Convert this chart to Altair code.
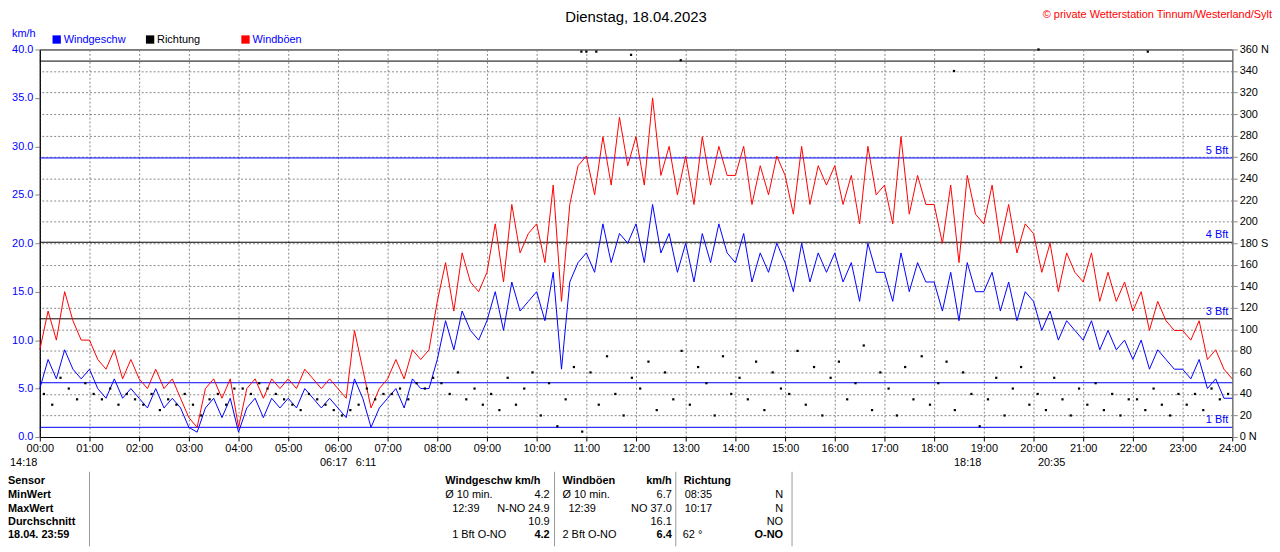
""" Wind chart Tinnum/Westerland, 18.04.2023 """
import altair as alt
import pandas as pd

# 10-minute values, one row per hour
speed = [
    5, 8, 6, 9, 7, 6,   7, 5, 4, 6, 4, 5,   4, 3, 5, 3, 4, 3,   1, 0.5, 3, 4, 2, 4,
    0.5, 3, 4, 2, 4, 3,   4, 3, 5, 4, 3, 4,   3, 2, 6, 4, 1, 3,   4, 5, 3, 6, 5, 5,
    8, 12, 9, 13, 11, 10,   12, 15, 11, 16, 13, 14,   15, 12, 17, 7, 16, 18,   19, 17, 22, 18, 21, 20,
    22, 18, 24, 19, 21, 17,   20, 16, 21, 18, 22, 19,   18, 21, 16, 19, 17, 20,   18, 15, 20, 16, 19, 17,
    19, 16, 18, 14, 20, 17,   17, 14, 19, 15, 18, 16,   16, 13, 17, 12, 18, 15,   15, 17, 13, 16, 12, 15,
    14, 11, 13, 10, 12, 11,   10, 12, 9, 11, 9, 10,   8, 10, 7, 9, 8, 7,   7, 6, 8, 5, 6, 4,   4,
]
gust = [
    9, 13, 10, 15, 12, 10,   10, 8, 7, 9, 6, 8,   6, 5, 7, 5, 6, 4,   2, 1, 5, 6, 4, 6,
    1, 5, 6, 4, 6, 5,   6, 5, 7, 6, 5, 6,   5, 4, 11, 7, 3, 5,   6, 8, 6, 9, 8, 9,
    14, 18, 13, 19, 16, 15,   17, 22, 16, 24, 19, 21,   22, 18, 26, 14, 24, 28,   29, 25, 31, 26, 33, 28,
    31, 26, 35, 27, 30, 25,   29, 24, 31, 26, 30, 27,   27, 30, 24, 28, 25, 29,   27, 23, 30, 24, 28, 26,
    28, 24, 27, 22, 30, 25,   26, 22, 31, 23, 27, 24,   24, 20, 26, 18, 27, 23,   22, 26, 20, 24, 19, 22,
    21, 17, 20, 15, 19, 17,   16, 19, 14, 17, 14, 16,   13, 15, 11, 14, 12, 11,   11, 10, 12, 8, 9, 7,   6,
]
direction = [
    40, 30, 55, 45, 35, 50,   40, 35, 45, 30, 40, 35,   30, 40, 25, 35, 30, 40,   30, 20, 35, 40, 30, 45,
    45, 40, 50, 45, 40, 35,   30, 25, 40, 35, 30, 25,   20, 25, 30, 45, 35, 40,   40, 45, 35, 50, 45, 55,
    50, 40, 60, 35, 45, 30,   40, 25, 55, 30, 45, 60,   20, 50, 10, 35, 65, 5,   60, 30, 75, 40, 20, 55,
    45, 70, 25, 60, 35, 80,   30, 65, 50, 20, 75, 40,   55, 35, 70, 25, 60, 45,   40, 80, 30, 65, 20, 55,
    70, 35, 50, 85, 25, 60,   45, 20, 65, 35, 75, 30,   50, 70, 25, 60, 40, 10,   35, 55, 20, 45, 65, 30,
    40, 25, 55, 35, 20, 45,   30, 50, 25, 40, 20, 35,   35, 25, 45, 30, 20, 40,   30, 40, 25, 45, 35, 40,
]
north_hours = [10.9, 11.0, 11.2, 11.9, 12.9, 18.4, 20.1, 22.3]
north_deg = [358, 358, 358, 355, 350, 340, 360, 358]

bft_values = [1.0, 5.6, 12.2, 20.1, 28.8, 38.8]
bft_colors = ["blue", "blue", "black", "black", "blue", "black"]
bft_labels = ["1 Bft", "", "3 Bft", "4 Bft", "5 Bft", ""]

hours = [i / 6 for i in range(len(speed))]
wind = pd.DataFrame({"h": hours, "speed": speed, "gust": gust})
dirs = pd.DataFrame({"h": [i / 6 + 1 / 12 for i in range(len(direction))] + north_hours,
                     "deg": direction + north_deg})
bft = pd.DataFrame({"v": bft_values, "c": bft_colors, "label": bft_labels})

W, H = 1200, 390
FONT = "Liberation Sans"

xscale = alt.Scale(domain=[0, 24], nice=False)
xaxis = alt.Axis(values=list(range(25)), labelExpr="(datum.value < 10 ? '0' : '') + datum.value + ':00'",
                 grid=True, gridDash=[2, 2], gridColor="#888", title=None, tickSize=4, labelFlush=False,
                 labelFontSize=11, labelColor="black", domainColor="black", tickColor="black")
yscale = alt.Scale(domain=[0, 40], nice=False)

base = alt.Chart(wind).encode(x=alt.X("h:Q", scale=xscale, axis=xaxis))
gust_line = base.mark_line(color="red", strokeWidth=1).encode(
    y=alt.Y("gust:Q", scale=yscale, axis=alt.Axis(values=[0, 5, 10, 15, 20, 25, 30, 35, 40], format=".1f",
                                                   grid=False, title=None, labelColor="blue",
                                                   labelFontSize=11, domainColor="black")))
speed_line = base.mark_line(color="blue", strokeWidth=1).encode(y=alt.Y("speed:Q", scale=yscale))

rules = alt.Chart(bft).mark_rule(strokeWidth=1).encode(
    y=alt.Y("v:Q", scale=yscale), color=alt.Color("c:N", scale=None))
rule_text = alt.Chart(bft).mark_text(align="right", dy=-7, dx=-4, fontSize=11, color="blue", font=FONT).encode(
    y=alt.Y("v:Q", scale=yscale), x=alt.value(W), text="label:N")

dir_axis = alt.Axis(orient="right", values=list(range(0, 361, 20)), grid=True, gridDash=[2, 2],
                    gridColor="#888", title=None, labelFontSize=11, labelColor="black",
                    labelExpr="datum.value == 0 || datum.value == 360 ? datum.value + ' N' : "
                              "datum.value == 180 ? '180 S' : datum.value")
dots = alt.Chart(dirs).mark_square(color="black", size=5, opacity=1).encode(
    x=alt.X("h:Q", scale=xscale),
    y=alt.Y("deg:Q", scale=alt.Scale(domain=[0, 360], nice=False), axis=dir_axis))

# texts around the plot area and the statistics table: (x, y, text, colour, align, weight, size)
R = [434, 448, 462, 476, 489]
cells = [
    (600, -33, "Dienstag, 18.04.2023", "black", "center", "normal", 15),
    (W + 40, -35, "© private Wetterstation Tinnum/Westerland/Sylt", "red", "right", "normal", 11),
    (-28, -16, "km/h", "blue", "left", "normal", 11),
    (24, -10, "Windgeschw", "blue", "left", "normal", 11),
    (118, -10, "Richtung", "black", "left", "normal", 11),
    (214, -10, "Windböen", "blue", "left", "normal", 11),
    (-30, 416, "14:18", "black", "left", "normal", 11),
    (282, 416, "06:17", "black", "left", "normal", 11),
    (318, 416, "6:11", "black", "left", "normal", 11),
    (920, 416, "18:18", "black", "left", "normal", 11),
    (1032, 416, "20:35", "black", "right", "normal", 11),
    (-32, R[0], "Sensor", "black", "left", "bold", 11),
    (-32, R[1], "MinWert", "black", "left", "bold", 11),
    (-32, R[2], "MaxWert", "black", "left", "bold", 11),
    (-32, R[3], "Durchschnitt", "black", "left", "bold", 11),
    (-32, R[4], "18.04. 23:59", "black", "left", "bold", 11),
    (408, R[0], "Windgeschw km/h", "black", "left", "bold", 11),
    (408, R[1], "Ø 10 min.", "black", "left", "normal", 11),
    (513, R[1], "4.2", "black", "right", "normal", 11),
    (415, R[2], "12:39", "black", "left", "normal", 11),
    (513, R[2], "N-NO 24.9", "black", "right", "normal", 11),
    (513, R[3], "10.9", "black", "right", "normal", 11),
    (415, R[4], "1 Bft O-NO", "black", "left", "normal", 11),
    (513, R[4], "4.2", "black", "right", "bold", 11),
    (526, R[0], "Windböen", "black", "left", "bold", 11),
    (636, R[0], "km/h", "black", "right", "bold", 11),
    (526, R[1], "Ø 10 min.", "black", "left", "normal", 11),
    (636, R[1], "6.7", "black", "right", "normal", 11),
    (532, R[2], "12:39", "black", "left", "normal", 11),
    (636, R[2], "NO 37.0", "black", "right", "normal", 11),
    (636, R[3], "16.1", "black", "right", "normal", 11),
    (526, R[4], "2 Bft O-NO", "black", "left", "normal", 11),
    (636, R[4], "6.4", "black", "right", "bold", 11),
    (648, R[0], "Richtung", "black", "left", "bold", 11),
    (649, R[1], "08:35", "black", "left", "normal", 11),
    (748, R[1], "N", "black", "right", "normal", 11),
    (649, R[2], "10:17", "black", "left", "normal", 11),
    (748, R[2], "N", "black", "right", "normal", 11),
    (748, R[3], "NO", "black", "right", "normal", 11),
    (647, R[4], "62 °", "black", "left", "normal", 11),
    (748, R[4], "O-NO", "black", "right", "bold", 11),
]
cell_df = pd.DataFrame(cells, columns=["x", "y", "t", "c", "a", "w", "s"])

text_layers = []
for (a, w), grp in cell_df.groupby(["a", "w"]):
    text_layers.append(
        alt.Chart(grp).mark_text(font=FONT, baseline="middle", align=a, fontWeight=w).encode(
            x=alt.X("x:Q", scale=None), y=alt.Y("y:Q", scale=None), text="t:N",
            color=alt.Color("c:N", scale=None), size=alt.Size("s:Q", scale=None)))

legend_sq = pd.DataFrame({"x": [17, 111, 207], "y": [-10, -10, -10], "c": ["blue", "black", "red"]})
squares = alt.Chart(legend_sq).mark_square(size=70, opacity=1).encode(
    x=alt.X("x:Q", scale=None), y=alt.Y("y:Q", scale=None), color=alt.Color("c:N", scale=None))

seps = pd.DataFrame({"x": [50, 518, 640, 757], "y": [425] * 4, "y2": [500] * 4})
sep_rules = alt.Chart(seps).mark_rule(color="#999").encode(
    x=alt.X("x:Q", scale=None), y=alt.Y("y:Q", scale=None), y2="y2:Q")

chart = (alt.layer(
    alt.layer(rules, gust_line, speed_line, rule_text),
    dots,
    *text_layers, squares, sep_rules)
    .resolve_scale(y="independent")
    .properties(width=W, height=H, autosize=alt.AutoSizeParams(type="none"),
                padding={"left": 32, "top": 40, "right": 40, "bottom": 114}, background="white")
    .configure_view(stroke="black")
    .configure_axis(labelFont=FONT)
)
chart.save("out.html", embed_options={"renderer": "svg", "actions": False})
